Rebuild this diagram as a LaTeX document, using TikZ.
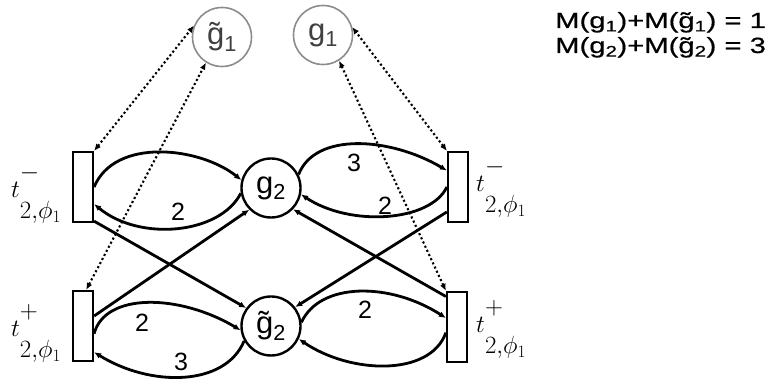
\documentclass[tikz,border=0pt]{standalone}
\usepackage{fontspec}
\setmainfont{Liberation Sans}
\newfontfamily\widesf[FakeStretch=1.33,FakeBold=0.6]{Liberation Sans}
\usetikzlibrary{arrows.meta}

\begin{document}
\begin{tikzpicture}[x=1pt, y=1pt, >={Latex[length=7pt,width=6pt]},
	trans/.style={draw, line width=2.2pt, rectangle, minimum width=20pt, minimum height=70pt, inner sep=0pt},
	place/.style={draw, line width=2.4pt, circle, minimum size=59pt, inner sep=0pt, font=\fontsize{31}{31}\selectfont},
	sideplace/.style={place, draw=black!45, line width=1.6pt, text=black!75},
	arc/.style={->, line width=2.8pt},
	readarc/.style={<->, line width=2.1pt, dash pattern=on 2.1pt off 2.5pt},
	wt/.style={font=\fontsize{25}{25}\selectfont, inner sep=0pt},
	tlab/.style={anchor=base west, inner sep=0pt, font=\fontsize{33}{33}\selectfont},
	inv/.style={anchor=base west, inner sep=0pt, font=\widesf\fontsize{22}{22}\selectfont}]
	\useasboundingbox (0,0) rectangle (770,382);

	\node[trans] (tmL) at (83,195) {};
	\node[trans] (tpL) at (83,56) {};
	\node[trans] (tmR) at (458,195) {};
	\node[trans] (tpR) at (457,55) {};
	\node[place] (g2) at (271,194) {g\textsubscript{2}};
	\node[place] (ng2) at (271,56) {\~{g}\textsubscript{2}};
	\node[sideplace] (ng1) at (222,345) {\~{g}\textsubscript{1}};
	\node[sideplace] (g1) at (323,347) {g\textsubscript{1}};

	\node[tlab] (ltmL) at (11,184) {$t^{\raisebox{.3em}{$\scriptstyle -$}}_{\raisebox{-.45em}{$\scriptstyle 2,\phi_1$}}$};
	\node[tlab] (ltpL) at (11,45) {$t^{\raisebox{.3em}{$\scriptstyle +$}}_{\raisebox{-.45em}{$\scriptstyle 2,\phi_1$}}$};
	\node[tlab] (ltmR) at (476,190) {$t^{\raisebox{.3em}{$\scriptstyle -$}}_{\raisebox{-.45em}{$\scriptstyle 2,\phi_1$}}$};
	\node[tlab] (ltpR) at (476,49) {$t^{\raisebox{.3em}{$\scriptstyle +$}}_{\raisebox{-.45em}{$\scriptstyle 2,\phi_1$}}$};

	\node[inv] (inv1) at (555,354) {M(g\textsubscript{1})+M(\~{g}\textsubscript{1}) = 1};
	\node[inv] (inv2) at (555,329) {M(g\textsubscript{2})+M(\~{g}\textsubscript{2}) = 3};

	\draw[arc] (tmL.east) .. controls (115,245) and (200,235) .. (g2.165);
	\draw[arc] (g2.190) .. controls (220,148) and (140,140) .. (tmL.-57);
	\draw[arc] (g2.26) .. controls (315,250) and (390,245) .. (tmR.124);
	\draw[arc] (tmR.west) .. controls (430,160) and (350,155) .. (g2.-12);
	\draw[arc] (tmL.-72) -- (ng2.144);
	\draw[arc] (tpL.42) -- (g2.225);
	\draw[arc] (tpR.110) -- (g2.-44);
	\draw[arc] (tmR.246) -- (ng2.38);
	\draw[arc] (tpL.-35) .. controls (105,90) and (180,88) .. (ng2.188);
	\draw[arc] (ng2.209) .. controls (225,-5) and (150,-5) .. (tpL.-67);
	\draw[arc] (ng2.7) .. controls (320,100) and (390,100) .. (tpR.141);
	\draw[arc] (tpR.207) .. controls (430,5) and (350,8) .. (ng2.-25);

	\draw[readarc] (tmL.north east) -- (ng1.158);
	\draw[readarc] (tpL.85) -- (ng1.238);
	\draw[readarc] (tmR.north west) -- (g1.15);
	\draw[readarc] (tpR.north west) -- (g1.-58);

	\node[wt] (w1) at (178,170) {2};
	\node[wt] (w2) at (354,219) {3};
	\node[wt] (w3) at (385,176) {2};
	\node[wt] (w4) at (142,59) {2};
	\node[wt] (w5) at (181,20) {3};
	\node[wt] (w6) at (365,72) {2};
\end{tikzpicture}
\end{document}
